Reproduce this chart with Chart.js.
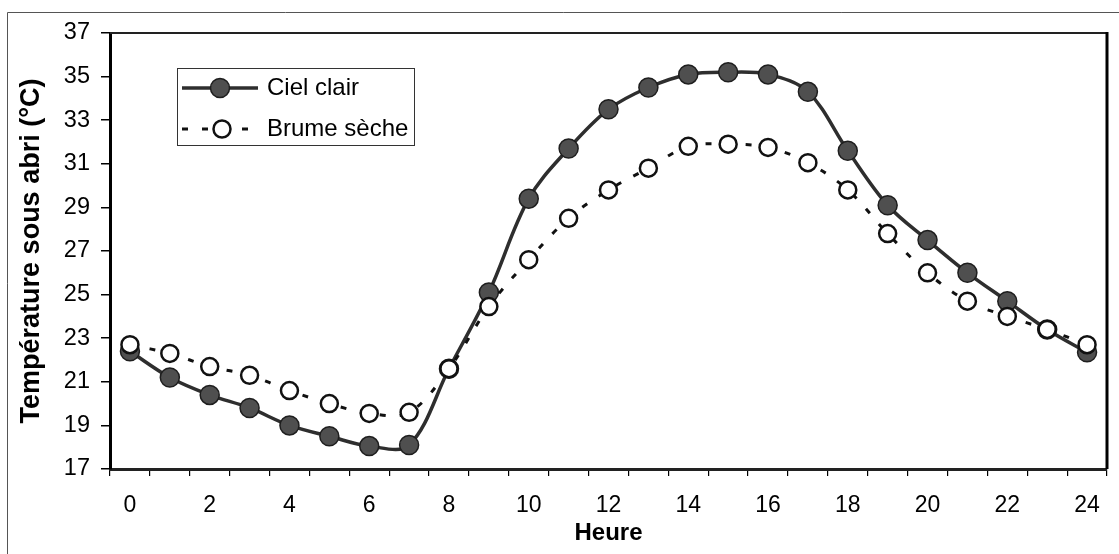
<!DOCTYPE html>
<html>
<head>
<meta charset="utf-8">
<script src="https://cdn.jsdelivr.net/npm/chart.js@4.4.1/dist/chart.umd.min.js"></script>
<style>
html,body{margin:0;padding:0;background:#fff;}
#wrap{width:1119px;height:554px;position:relative;}
canvas{display:block;}
</style>
</head>
<body>
<div id="wrap"><canvas id="c" width="1119" height="554"></canvas></div>
<script>
// ---- data ----
const hours = ['0','1','2','3','4','5','6','7','8','9','10','11','12','13','14','15','16','17','18','19','20','21','22','23','24'];
const xTickLabels = ['0','2','4','6','8','10','12','14','16','18','20','22','24'];
const yTickValues = [17,19,21,23,25,27,29,31,33,35,37];
const cielClair  = [22.4,21.2,20.4,19.8,19.0,18.5,18.05,18.1,21.6,25.1,29.4,31.7,33.5,34.5,35.1,35.2,35.1,34.3,31.6,29.1,27.5,26.0,24.7,23.4,22.35];
const brumeSeche = [22.7,22.3,21.7,21.3,20.6,20.0,19.55,19.6,21.6,24.45,26.6,28.5,29.8,30.8,31.8,31.9,31.75,31.05,29.8,27.8,26.0,24.7,24.0,23.4,22.7];
const seriesNames = ['Ciel clair','Brume sèche'];
const xTitle = 'Heure';
const yTitle = 'Température sous abri (°C)';

const FONT = "'Liberation Sans', Arial, sans-serif";

const framePlugin = {
  id: 'frames',
  beforeDraw(chart) {
    const ctx = chart.ctx;
    ctx.save();
    ctx.strokeStyle = '#555';
    ctx.lineWidth = 1;
    ctx.beginPath();
    ctx.moveTo(7.5, 554); ctx.lineTo(7.5, 12.5); ctx.lineTo(1119, 12.5);
    ctx.stroke();
    ctx.restore();
  },
  afterDatasetsDraw(chart) {
    const ctx = chart.ctx, a = chart.chartArea;
    ctx.save();
    ctx.strokeStyle = '#222';
    ctx.lineWidth = 2;
    ctx.beginPath();
    ctx.moveTo(a.left, a.top); ctx.lineTo(a.right, a.top);
    ctx.stroke();
    ctx.lineWidth = 3;
    ctx.strokeStyle = '#000';
    ctx.beginPath();
    ctx.moveTo(a.right, a.top - 1); ctx.lineTo(a.right, a.bottom);
    ctx.stroke();
    ctx.restore();
  }
};

const legendPlugin = {
  id: 'boxLegend',
  afterDraw(chart) {
    const ctx = chart.ctx;
    const box = {x: 177.5, y: 68.5, w: 237, h: 77};
    const rows = [88, 129];
    ctx.save();
    ctx.fillStyle = '#fff';
    ctx.fillRect(box.x, box.y, box.w, box.h);
    ctx.strokeStyle = '#333';
    ctx.lineWidth = 1;
    ctx.strokeRect(box.x, box.y, box.w, box.h);
    chart.data.datasets.forEach((ds, i) => {
      const y = rows[i];
      ctx.save();
      ctx.strokeStyle = ds.borderColor;
      ctx.lineWidth = ds.borderWidth;
      ctx.setLineDash(ds.borderDash || []);
      ctx.beginPath();
      ctx.moveTo(182, y); ctx.lineTo(258, y);
      ctx.stroke();
      ctx.setLineDash([]);
      ctx.beginPath();
      ctx.arc(i === 0 ? 220 : 222, y, ds.pointRadius, 0, Math.PI * 2);
      ctx.fillStyle = ds.pointBackgroundColor;
      ctx.fill();
      ctx.lineWidth = ds.pointBorderWidth;
      ctx.strokeStyle = ds.pointBorderColor;
      ctx.stroke();
      ctx.restore();
      ctx.fillStyle = '#000';
      ctx.font = '24px ' + FONT;
      ctx.textBaseline = 'middle';
      ctx.textAlign = 'left';
      ctx.fillText(ds.label, 267, y);
    });
    ctx.restore();
  }
};

new Chart(document.getElementById('c'), {
  type: 'line',
  data: {
    labels: hours,
    datasets: [
      {
        label: seriesNames[0], data: cielClair,
        borderColor: '#2e2e2e', borderWidth: 3.5,
        pointRadius: 9.5, pointBackgroundColor: '#4f4f4f', pointBorderColor: '#1e1e1e', pointBorderWidth: 1.5,
        tension: 0.35, order: 1
      },
      {
        label: seriesNames[1], data: brumeSeche,
        borderColor: '#111', borderWidth: 3, borderDash: [6, 14],
        pointRadius: 8.5, pointBackgroundColor: '#fff', pointBorderColor: '#111', pointBorderWidth: 2.5,
        tension: 0.35, order: 0
      }
    ]
  },
  options: {
    responsive: false,
    animation: false,
    devicePixelRatio: 1,
    layout: {padding: {left: 0, top: 33, right: 12, bottom: 0}},
    plugins: {legend: {display: false}, tooltip: {enabled: false}},
    scales: {
      x: {
        type: 'category',
        offset: true,
        afterFit(s) { s.height = 85; },
        grid: {offset: true, drawOnChartArea: false, drawTicks: true, tickLength: 7, color: '#000', lineWidth: 1.2},
        border: {display: true, color: '#222', width: 3},
        ticks: {
          autoSkip: false, maxRotation: 0, minRotation: 0, padding: 16,
          color: '#000', font: {family: FONT, size: 23},
          callback(v, i) { return xTickLabels.includes(hours[i]) ? hours[i] : ''; }
        },
        title: {display: true, text: xTitle, color: '#000', font: {family: FONT, size: 24, weight: 'bold'}, padding: {top: 0, bottom: 6}}
      },
      y: {
        min: yTickValues[0], max: yTickValues[yTickValues.length - 1],
        afterFit(s) { s.width = 110; },
        afterBuildTicks(s) { s.ticks = yTickValues.map(v => ({value: v})); },
        grid: {drawOnChartArea: false, drawTicks: true, tickLength: 9, color: '#000', lineWidth: 1.5},
        border: {display: true, color: '#000', width: 3},
        ticks: {color: '#000', padding: 11, font: {family: FONT, size: 23.5}},
        title: {display: true, text: yTitle, color: '#000', font: {family: FONT, size: 27, weight: 'bold'}, padding: {top: 15, bottom: 0}}
      }
    }
  },
  plugins: [framePlugin, legendPlugin]
});
</script>
</body>
</html>
